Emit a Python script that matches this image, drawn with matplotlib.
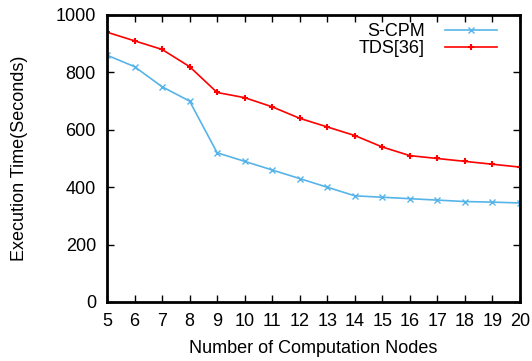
import matplotlib
matplotlib.use("Agg")
import matplotlib.pyplot as plt

nodes = [5, 6, 7, 8, 9, 10, 11, 12, 13, 14, 15, 16, 17, 18, 19, 20]
scpm = [860, 820, 750, 700, 520, 490, 460, 430, 400, 370, 365, 360, 355, 350, 348, 345]
tds = [940, 910, 880, 820, 730, 712, 680, 640, 610, 580, 540, 510, 500, 490, 480, 470]
yticks = [0, 200, 400, 600, 800, 1000]

plt.rcParams['font.family'] = ['Liberation Sans', 'DejaVu Sans']

fig = plt.figure(figsize=(5.32, 3.61), dpi=100)
ax = fig.add_axes([107/532, 1-302/361, (520-107)/532, (302-15)/361])

ax.plot(nodes, scpm, color='#56b4e9', marker='x', markersize=4, linewidth=1.2, label='S-CPM')
ax.plot(nodes, tds, color='#ff0000', marker='+', markersize=5, markeredgewidth=1.5, linewidth=1.2, label='TDS[36]')

ax.set_xlim(5, 20)
ax.set_ylim(0, 1000)
ax.set_xticks(nodes)
ax.set_yticks(yticks)
ax.tick_params(direction='in', top=True, right=True, labelsize=13, length=5, width=1)
ax.tick_params(axis='x', pad=8)
ax.tick_params(axis='y', pad=8)
for s in ax.spines.values():
    s.set_linewidth(2)
ax.set_xlabel('Number of Computation Nodes', fontsize=13, labelpad=7)
ax.set_ylabel('Execution Time(Seconds)', fontsize=13, labelpad=20)

leg = ax.legend(loc='upper right', bbox_to_anchor=(0.944, 0.972), frameon=False, markerfirst=False,
                fontsize=13, handlelength=2.9, borderaxespad=0, borderpad=0,
                labelspacing=0.0, handletextpad=1.1)

fig.savefig('out.png', dpi=100)
